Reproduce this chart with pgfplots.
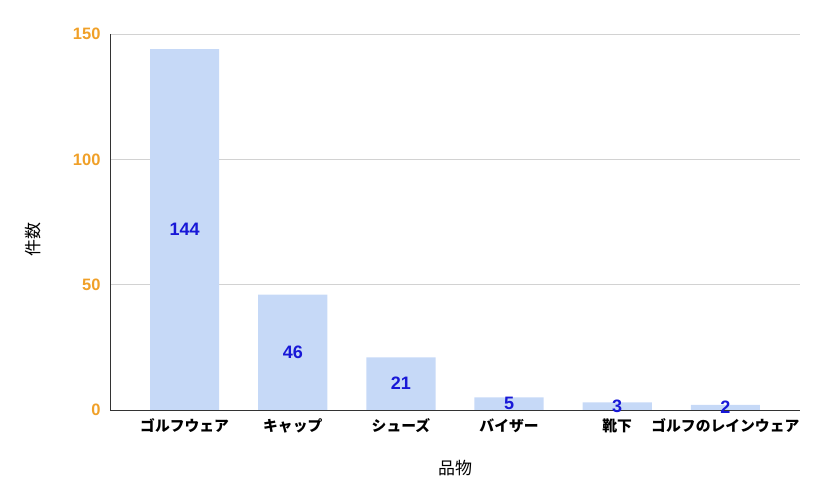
\documentclass[border=0pt]{standalone}
\usepackage{pgfplots}
\pgfplotsset{compat=1.18}
\usepackage{fontspec}
\setmainfont{Liberation Sans}
\newfontfamily\cjk{Noto Sans CJK JP}
\definecolor{barblue}{RGB}{198,217,247}
\definecolor{lblblue}{RGB}{24,24,215}
\definecolor{tickorange}{RGB}{240,160,40}
\definecolor{gridgray}{RGB}{210,210,210}
\begin{document}
\begin{tikzpicture}[x=1pt,y=1pt]
\path (0,0) rectangle (827,497);
\begin{axis}[
  at={(110pt,87pt)}, anchor=south west,
  scale only axis, width=690pt, height=376pt,
  xmin=-0.69, xmax=5.69, ymin=0, ymax=150,
  axis x line=bottom, axis y line=left,
  axis line style={draw=black!80, -},
  ytick={0,50,100,150}, xtick={0,...,5},
  xticklabels={ゴルフウェア,キャップ,シューズ,バイザー,靴下,ゴルフのレインウェア},
  ymajorgrids, grid style={gridgray, line width=0.8pt},
  major tick length=0pt,
  /pgf/number format/assume math mode=true,
  yticklabel style={font=\fontsize{16.5}{16.5}\selectfont\bfseries, text=tickorange, anchor=east, xshift=-6pt},
  xticklabel style={font=\cjk\fontsize{14.8}{14.8}\selectfont\bfseries, anchor=north, yshift=-5pt},
  xlabel={品物}, ylabel={件数},
  xlabel style={font=\cjk\fontsize{17}{17}\selectfont, at={(rel axis cs:0.5,0)}, anchor=center, yshift=-58pt},
  ylabel style={font=\cjk\fontsize{17}{17}\selectfont, at={(rel axis cs:0,0.5)}, anchor=center, yshift=77pt, xshift=-18pt},
  clip=false,
]
\addplot[ybar, bar shift=0pt, bar width=0.64, fill=barblue, draw=none] coordinates {
  (0,144) (1,46) (2,21) (3,5) (4,3) (5,2)
};
\addplot[draw=none, mark=none, nodes near coords, point meta=explicit symbolic,
  nodes near coords style={anchor=center, font=\fontsize{18}{18}\selectfont\bfseries, text=lblblue}]
  table[x=x, y expr=\thisrow{y}/2, meta=y] {
x y
0 144
1 46
2 21
3 5
4 3
5 2
};
\end{axis}
\end{tikzpicture}
\end{document}
